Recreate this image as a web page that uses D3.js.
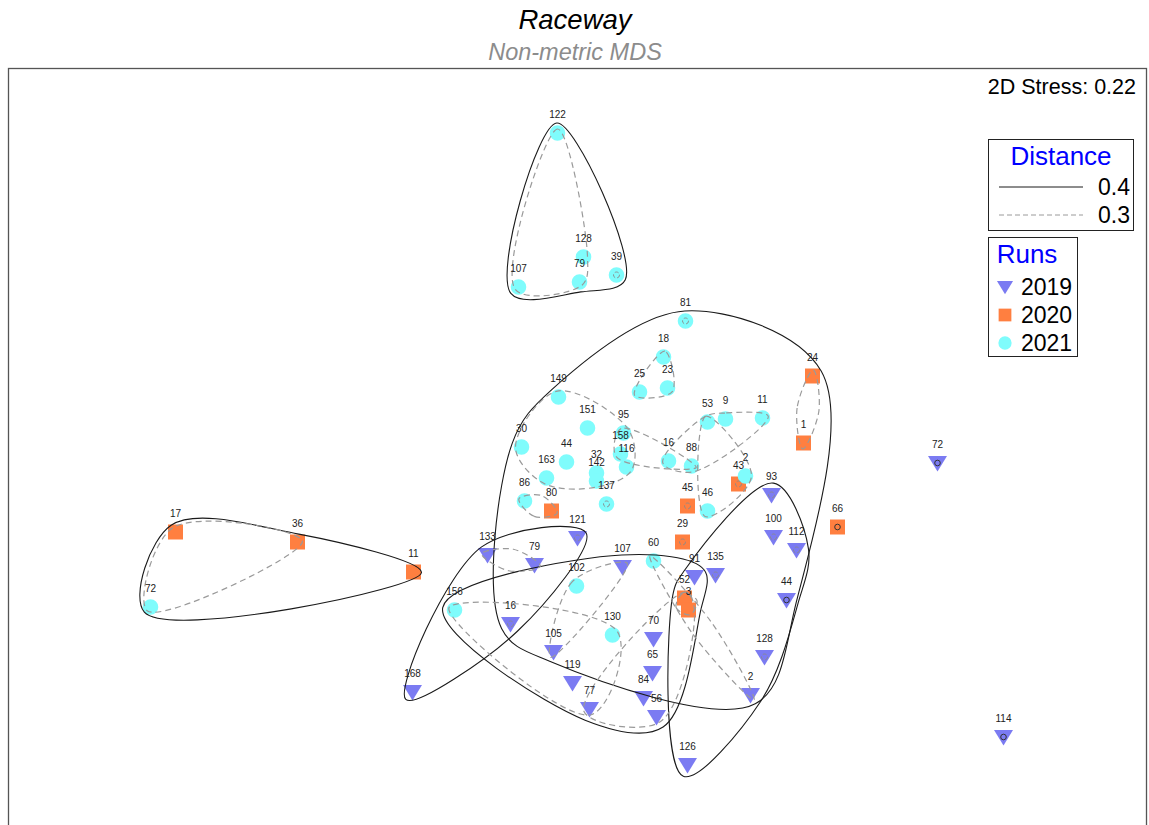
<!DOCTYPE html>
<html><head><meta charset="utf-8">
<script src="https://cdn.jsdelivr.net/npm/d3@7"></script>
<style>
body{margin:0;background:#fff}
svg{display:block;font-family:"Liberation Sans",Arial,sans-serif}
</style>
</head><body>
<svg id="chart" width="1149" height="825"></svg>
<script>
// ---- Samples by run year: label and MDS coordinates ----
const labels2019 = ["93","100","112","72","114","91","135","107","70","65","84","56","2","128","44","126","121","133","79","16","105","119","77","168"];
const mds1_2019 = [1.97,1.99,2.22,3.63,4.29,1.20,1.41,0.48,0.79,0.78,0.69,0.82,1.76,1.90,2.12,1.13,0.03,-0.87,-0.40,-0.64,-0.21,-0.02,0.15,-1.62];
const mds2_2019 = [-0.55,-0.97,-1.10,-0.23,-2.97,-1.37,-1.35,-1.27,-1.99,-2.33,-2.58,-2.77,-2.55,-2.17,-1.60,-3.25,-0.98,-1.15,-1.25,-1.84,-2.12,-2.43,-2.69,-2.52];

const labels2020 = ["17","36","11","80","45","29","52","3","43","1","24","66"];
const mds1_2020 = [-3.99,-2.77,-1.61,-0.23,1.13,1.08,1.10,1.14,1.64,2.29,2.38,2.63];
const mds2_2020 = [-0.92,-1.02,-1.32,-0.71,-0.66,-1.02,-1.58,-1.70,-0.44,-0.03,0.64,-0.87];

const labels2021 = ["122","128","79","39","107","81","18","23","25","149","151","95","158","116","30","44","163","32","142","137","86","16","88","53","9","11","2","46","60","102","156","130","72"];
const mds1_2021 = [-0.17,0.09,0.05,0.42,-0.56,1.11,0.89,0.93,0.65,-0.16,0.13,0.49,0.46,0.52,-0.53,-0.08,-0.28,0.22,0.22,0.32,-0.50,0.94,1.17,1.33,1.51,1.88,1.71,1.33,0.79,0.02,-1.20,0.38,-4.24];
const mds2_2021 = [3.07,1.83,1.58,1.65,1.53,1.19,0.83,0.52,0.48,0.43,0.12,0.07,-0.14,-0.27,-0.07,-0.22,-0.38,-0.33,-0.41,-0.64,-0.61,-0.21,-0.26,0.18,0.21,0.22,-0.36,-0.71,-1.21,-1.46,-1.70,-1.95,-1.67];

const runYears = ["2019","2020","2021"];
const stressValue = 0.22;
const distanceLevels = ["0.4","0.3"];

// ---- Cluster groups (members as "label.yy") ----
const clusters04 = [
  ["122.21","128.21","79.21","39.21","107.21"],
  ["17.20","36.20","11.20","72.21"],
  ["81.21","18.21","23.21","25.21","149.21","151.21","95.21","158.21","116.21","30.21","44.21","163.21","32.21","142.21","137.21","86.21","80.20","16.21","88.21","53.21","9.21","11.21","2.21","43.20","45.20","46.21","24.20","1.20","29.20","60.21","121.19","79.19","102.21","107.19","16.19","105.19","65.19","70.19","2.19","128.19","44.19"],
  ["93.19","100.19","112.19","135.19","91.19","52.20","3.20","44.19","128.19","2.19","126.19"],
  ["168.19","133.19","79.19","121.19","16.19"],
  ["156.21","16.19","102.21","105.19","119.19","77.19","107.19","130.21","70.19","65.19","84.19","56.19","52.20","3.20","91.19"]
];
const clusters03 = [
  ["122.21","107.21","79.21","128.21"],
  ["17.20","36.20","72.21"],
  ["18.21","23.21","25.21"],
  ["24.20","1.20"],
  ["149.21","151.21","30.21","44.21","163.21","32.21","142.21","116.21","158.21","95.21"],
  ["95.21","158.21","16.21","88.21"],
  ["16.21","88.21","53.21","9.21","11.21"],
  ["53.21","46.21","2.21"],
  ["86.21","80.20"],
  ["133.19","79.19"],
  ["156.21","130.21","77.19","119.19"],
  ["102.21","105.19","107.19"],
  ["52.20","3.20","56.19","77.19"],
  ["60.21","2.19"],
  ["52.20","3.20"]
];
// Single-sample groups marked with a small ring
const singles04 = ["72.19","114.19","66.20","44.19"];
const singles03 = ["93.19","100.19","112.19","135.19","128.19","45.20","29.20","43.20","81.21","137.21","39.21","16.19","121.19"];

// ---- Build sample table ----
const samples = [];
function addYear(year, labs, xs, ys) {
  labs.forEach((l, i) => samples.push({label: l, year: year, key: l + "." + year.slice(2), x: xs[i], y: ys[i]}));
}
addYear("2019", labels2019, mds1_2019, mds2_2019);
addYear("2020", labels2020, mds1_2020, mds2_2020);
addYear("2021", labels2021, mds1_2021, mds2_2021);
const byKey = new Map(samples.map(d => [d.key, d]));

// ---- Layout ----
const svg = d3.select("#chart");
const frame = {left: 8.5, top: 68.5, right: 1146.5, bottom: 900};
const xScale = d3.scaleLinear().domain([-5.665, 5.715]).range([8, 1146]);
const yScale = d3.scaleLinear().domain([3.715, -3.885]).range([68.5, 828.5]);

const colors = {"2019": "#7b7bf2", "2020": "#ff7f40", "2021": "#7ffcfc"};

svg.append("text").attr("x", 575).attr("y", 29).attr("text-anchor", "middle")
  .attr("font-size", 27.5).attr("font-style", "italic").attr("fill", "#000").text("Raceway");
svg.append("text").attr("x", 575).attr("y", 60).attr("text-anchor", "middle")
  .attr("font-size", 23.5).attr("font-style", "italic").attr("fill", "#8c8c8c").text("Non-metric MDS");

svg.append("rect").attr("x", frame.left).attr("y", frame.top)
  .attr("width", frame.right - frame.left).attr("height", frame.bottom - frame.top)
  .attr("fill", "none").attr("stroke", "#555").attr("stroke-width", 1.3);

svg.append("text").attr("x", 1136).attr("y", 94).attr("text-anchor", "end")
  .attr("font-size", 21.5).attr("fill", "#000").text("2D Stress: " + stressValue.toFixed(2));

// ---- Marker shapes ----
function markerPath(year, s) {
  if (year === "2019") return `M${-9.5*s},${-7*s}L${9.5*s},${-7*s}L0,${8.5*s}Z`;
  if (year === "2020") return `M${-7.5*s},${-7.5*s}h${15*s}v${15*s}h${-15*s}Z`;
  const r = 7.8 * s;
  return `M${-r},0a${r},${r} 0 1,0 ${2*r},0a${r},${r} 0 1,0 ${-2*r},0Z`;
}

const gMarks = svg.append("g");
gMarks.selectAll("path").data(samples).join("path")
  .attr("transform", d => `translate(${xScale(d.x)},${yScale(d.y)})`)
  .attr("d", d => markerPath(d.year, 1))
  .attr("fill", d => colors[d.year]);

// ---- Cluster outlines: smoothed, padded convex hull of each group ----
function outlinePath(keys, pad, halfWidth) {
  const pts = keys.map(k => byKey.get(k)).map(d => [xScale(d.x), yScale(d.y)]);
  let hull = pts.length >= 3 ? d3.polygonHull(pts) : null;
  let verts;
  if (!hull || hull.length < 3) {
    let a = pts[0], b = pts[1];
    if (pts.length > 2) {
      let best = 0;
      pts.forEach(p => pts.forEach(q => { const dd = Math.hypot(p[0]-q[0], p[1]-q[1]); if (dd > best) { best = dd; a = p; b = q; } }));
    }
    const dx = b[0]-a[0], dy = b[1]-a[1], L = Math.hypot(dx, dy) || 1;
    const ux = dx/L, uy = dy/L, px = -uy, py = ux;
    const mx = (a[0]+b[0])/2, my = (a[1]+b[1])/2;
    verts = [[a[0]-ux*pad, a[1]-uy*pad], [mx+px*halfWidth, my+py*halfWidth],
             [b[0]+ux*pad, b[1]+uy*pad], [mx-px*halfWidth, my-py*halfWidth]];
  } else {
    const c = d3.polygonCentroid(hull);
    const n = hull.length;
    const normal = (p, q) => {
      const dx = q[0]-p[0], dy = q[1]-p[1], L = Math.hypot(dx, dy) || 1;
      let nx = dy/L, ny = -dx/L;
      const mx = (p[0]+q[0])/2 - c[0], my = (p[1]+q[1])/2 - c[1];
      if (nx*mx + ny*my < 0) { nx = -nx; ny = -ny; }
      return [nx, ny];
    };
    verts = hull.map((v, i) => {
      const p = hull[(i-1+n)%n], q = hull[(i+1)%n];
      const n1 = normal(p, v), n2 = normal(v, q);
      const bx = n1[0]+n2[0], by = n1[1]+n2[1];
      const bl = Math.hypot(bx, by) || 1;
      return [v[0] + bx/bl*pad, v[1] + by/bl*pad];
    });
  }
  return d3.line().curve(d3.curveCatmullRomClosed.alpha(0.5))(verts);
}

const pad04 = [10, 8, 10, 12, 10, 12];
const pad03 = [4, 5, 6, 6, 6, 5, 6, 6, 6, 6, 6, 6, 6, 6, 5];
const gOut = svg.append("g").attr("fill", "none");
clusters04.forEach((c, i) => {
  gOut.append("path").attr("d", outlinePath(c, pad04[i], 12))
    .attr("stroke", "#1a1a1a").attr("stroke-width", 1.1);
});
clusters03.forEach((c, i) => {
  gOut.append("path").attr("d", outlinePath(c, pad03[i], 11))
    .attr("stroke", "#9a9a9a").attr("stroke-width", 1.2).attr("stroke-dasharray", "6,4");
});
singles04.forEach(k => {
  const d = byKey.get(k);
  gOut.append("circle").attr("cx", xScale(d.x)).attr("cy", yScale(d.y)).attr("r", 2.8)
    .attr("stroke", "#333").attr("stroke-width", 1);
});
singles03.forEach(k => {
  const d = byKey.get(k);
  gOut.append("circle").attr("cx", xScale(d.x)).attr("cy", yScale(d.y)).attr("r", 3)
    .attr("stroke", "#8a8a8a").attr("stroke-width", 0.9).attr("stroke-dasharray", "4,2");
});

// ---- Sample labels ----
svg.append("g").selectAll("text").data(samples).join("text")
  .attr("x", d => xScale(d.x)).attr("y", d => yScale(d.y) - 15)
  .attr("text-anchor", "middle").attr("font-size", 10).attr("fill", "#222")
  .text(d => d.label);

// ---- Legends ----
const lg1 = svg.append("g");
lg1.append("rect").attr("x", 988.5).attr("y", 139.5).attr("width", 145).attr("height", 91)
  .attr("fill", "#fff").attr("stroke", "#222").attr("stroke-width", 1);
lg1.append("text").attr("x", 1061).attr("y", 165).attr("text-anchor", "middle")
  .attr("font-size", 26).attr("fill", "#0000ff").text("Distance");
[0, 1].forEach(i => {
  const y = 187 + i * 28;
  lg1.append("line").attr("x1", 999).attr("x2", 1083).attr("y1", y).attr("y2", y)
    .attr("stroke", i === 0 ? "#1a1a1a" : "#9a9a9a").attr("stroke-width", 1)
    .attr("stroke-dasharray", i === 0 ? null : "5,3");
  lg1.append("text").attr("x", 1130).attr("y", y + 8).attr("text-anchor", "end")
    .attr("font-size", 23).attr("fill", "#000").text(distanceLevels[i]);
});

const lg2 = svg.append("g");
lg2.append("rect").attr("x", 988.5).attr("y", 237.5).attr("width", 89).attr("height", 119)
  .attr("fill", "#fff").attr("stroke", "#222").attr("stroke-width", 1);
lg2.append("text").attr("x", 1027).attr("y", 263).attr("text-anchor", "middle")
  .attr("font-size", 26).attr("fill", "#0000ff").text("Runs");
runYears.forEach((yr, i) => {
  const y = 287 + i * 28;
  lg2.append("path").attr("transform", `translate(1005,${y})`).attr("d", markerPath(yr, 0.85))
    .attr("fill", colors[yr]);
  lg2.append("text").attr("x", 1021).attr("y", y + 8).attr("font-size", 23).attr("fill", "#000").text(yr);
});
</script>
</body></html>
